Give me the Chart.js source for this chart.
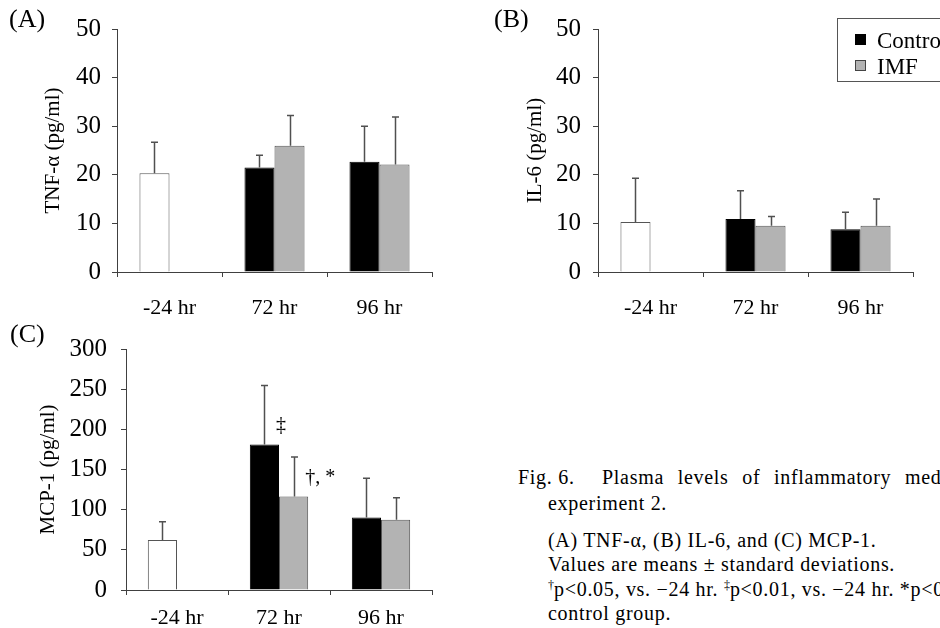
<!DOCTYPE html>
<html>
<head>
<meta charset="utf-8">
<script src="https://cdn.jsdelivr.net/npm/chart.js@4.4.1/dist/chart.umd.min.js"></script>
<style>
  html, body { margin: 0; padding: 0; background: #fff; }
  body { width: 940px; height: 628px; position: relative; overflow: hidden;
         font-family: 'Liberation Serif', 'Times New Roman', serif; color: #000; }
  canvas { position: absolute; }
  .tag { position: absolute; font-size: 26px; line-height: 26px; white-space: nowrap; }
  .cap { position: absolute; font-size: 20px; line-height: 20px; letter-spacing: 0.7px; white-space: nowrap; }
  .cap sup { font-size: 12px; letter-spacing: 0; vertical-align: 7px; line-height: 0; }
  #legend { position: absolute; left: 837px; top: 18px; width: 140px; height: 64px;
            border: 1px solid #555; box-sizing: border-box; }
  #legend .sw { position: absolute; left: 17px; width: 11px; height: 11px; box-sizing: border-box; }
  #legend .tx { position: absolute; left: 39px; font-size: 23px; line-height: 23px; white-space: nowrap; }
</style>
</head>
<body>
<canvas id="chartA" width="450" height="320" style="left:0;top:0"></canvas>
<canvas id="chartB" width="470" height="320" style="left:470px;top:0"></canvas>
<canvas id="chartC" width="450" height="308" style="left:0;top:320px"></canvas>

<div class="tag" style="left:9px;top:6px">(A)</div>
<div class="tag" style="left:494px;top:6px">(B)</div>
<div class="tag" style="left:10px;top:321px">(C)</div>

<div id="legend">
  <div class="sw" style="top:15px;background:#000"></div>
  <div class="tx" style="top:10px">Control</div>
  <div class="sw" style="top:41px;background:#b3b3b3;border:1px solid #444"></div>
  <div class="tx" style="top:36px">IMF</div>
</div>

<div class="cap" style="left:518px;top:467px">Fig. 6.</div>
<div class="cap" style="left:602px;top:467px;word-spacing:8px">Plasma levels of inflammatory mediators in</div>
<div class="cap" style="left:548px;top:493px">experiment 2.</div>
<div class="cap" style="left:548px;top:530px">(A) TNF-α, (B) IL-6, and (C) MCP-1.</div>
<div class="cap" style="left:548px;top:554px">Values are means ± standard deviations.</div>
<div class="cap" style="left:548px;top:579px"><sup>†</sup>p&lt;0.05, vs. −24 hr. <sup>‡</sup>p&lt;0.01, vs. −24 hr. *p&lt;0.05, vs.</div>
<div class="cap" style="left:548px;top:603px">control group.</div>

<script>
// time points
const categories = ['-24 hr', '72 hr', '96 hr'];

// (A) TNF-alpha, pg/ml  (first bar of the control series is the -24 hr baseline)
const tnfControl = [20.3, 21.5, 22.7];
const tnfControlSd = [6.4, 2.5, 7.3];
const tnfImf = [null, 26.0, 22.1];
const tnfImfSd = [null, 6.2, 9.8];

// (B) IL-6, pg/ml
const il6Control = [10.3, 10.9, 8.8];
const il6ControlSd = [9.0, 5.8, 3.5];
const il6Imf = [null, 9.5, 9.5];
const il6ImfSd = [null, 1.9, 5.5];

// (C) MCP-1, pg/ml
const mcpControl = [62.3, 181, 90.4];
const mcpControlSd = [22.7, 73.7, 48.6];
const mcpImf = [null, 116.4, 87.5];
const mcpImfSd = [null, 49.1, 27.3];

// significance marks in (C): dataset, category, text, level
const mcpMarks = [
  { ds: 0, i: 1, text: '‡', at: 204 },
  { ds: 1, i: 1, text: '†, *', at: 140 }
];

const AXIS = '#404040';
const serif = "'Liberation Serif', 'Times New Roman', serif";
Chart.defaults.font.family = serif;
Chart.defaults.color = '#000';

const errorBars = {
  id: 'errorBars',
  afterDatasetsDraw(chart) {
    const ctx = chart.ctx;
    const y = chart.scales.y;
    chart.data.datasets.forEach((ds, di) => {
      const meta = chart.getDatasetMeta(di);
      meta.data.forEach((bar, i) => {
        const v = ds.data[i], e = ds.errors[i];
        if (v == null || e == null) return;
        const top = y.getPixelForValue(v + e);
        const x = Math.round(bar.x) + 0.5;
        ctx.save();
        ctx.strokeStyle = '#505050';
        ctx.lineWidth = 1.5;
        ctx.beginPath();
        ctx.moveTo(x, bar.y);
        ctx.lineTo(x, top);
        ctx.moveTo(x - 3.5, top);
        ctx.lineTo(x + 3.5, top);
        ctx.stroke();
        ctx.restore();
      });
    });
  }
};

const sigMarks = {
  id: 'sigMarks',
  afterDatasetsDraw(chart, args, opts) {
    const marks = opts.marks || [];
    const ctx = chart.ctx;
    marks.forEach(m => {
      const bar = chart.getDatasetMeta(m.ds).data[m.i];
      ctx.save();
      ctx.font = '20px ' + serif;
      ctx.fillStyle = '#000';
      ctx.textAlign = 'left';
      ctx.textBaseline = 'middle';
      ctx.fillText(m.text, bar.x + bar.width / 2 - 3, chart.scales.y.getPixelForValue(m.at));
      ctx.restore();
    });
  }
};

function makePanel(id, o) {
  return new Chart(document.getElementById(id), {
    type: 'bar',
    data: {
      labels: categories,
      datasets: [{
        label: 'Control',
        data: o.control,
        errors: o.controlSd,
        backgroundColor: ['#ffffff', '#000000', '#000000'],
        borderColor: ['#555555', '#000000', '#000000'],
        borderWidth: 1
      }, {
        label: 'IMF',
        data: o.imf,
        errors: o.imfSd,
        backgroundColor: '#b3b3b3',
        borderColor: '#555555',
        borderWidth: 1
      }]
    },
    options: {
      responsive: false,
      animation: false,
      categoryPercentage: 0.572,
      barPercentage: 1,
      layout: { padding: { top: o.top, right: o.right, left: 0, bottom: 0 } },
      plugins: {
        legend: { display: false },
        tooltip: { enabled: false },
        sigMarks: { marks: o.marks || [] }
      },
      scales: {
        x: {
          grid: { drawOnChartArea: false, tickLength: 5, color: AXIS },
          border: { color: AXIS },
          ticks: { font: { size: 22 }, padding: o.xPad, color: '#000' },
          afterFit: s => { s.height = o.xHeight; }
        },
        y: {
          min: 0,
          max: o.max,
          ticks: { stepSize: o.step, font: { size: 25 }, padding: o.yPad, color: '#000' },
          grid: { drawOnChartArea: false, tickLength: 5, color: AXIS },
          border: { color: AXIS },
          title: { display: true, text: o.title, font: { size: 21 }, padding: { top: o.titlePad, bottom: 0 }, color: '#000' },
          afterFit: s => { s.width = o.yWidth; }
        }
      }
    },
    plugins: [errorBars, sigMarks]
  });
}

makePanel('chartA', {
  control: tnfControl, controlSd: tnfControlSd, imf: tnfImf, imfSd: tnfImfSd,
  max: 50, step: 10, title: 'TNF-α (pg/ml)',
  top: 29, right: 18, yWidth: 117, xHeight: 48, xPad: 18, yPad: 11, titlePad: 41
});

makePanel('chartB', {
  control: il6Control, controlSd: il6ControlSd, imf: il6Imf, imfSd: il6ImfSd,
  max: 50, step: 10, title: 'IL-6 (pg/ml)',
  top: 29, right: 27, yWidth: 128, xHeight: 48, xPad: 18, yPad: 12, titlePad: 53
});

makePanel('chartC', {
  control: mcpControl, controlSd: mcpControlSd, imf: mcpImf, imfSd: mcpImfSd,
  max: 300, step: 50, title: 'MCP-1 (pg/ml)', marks: mcpMarks,
  top: 28, right: 18, yWidth: 126, xHeight: 38, xPad: 10, yPad: 14, titlePad: 36
});
</script>
</body>
</html>
